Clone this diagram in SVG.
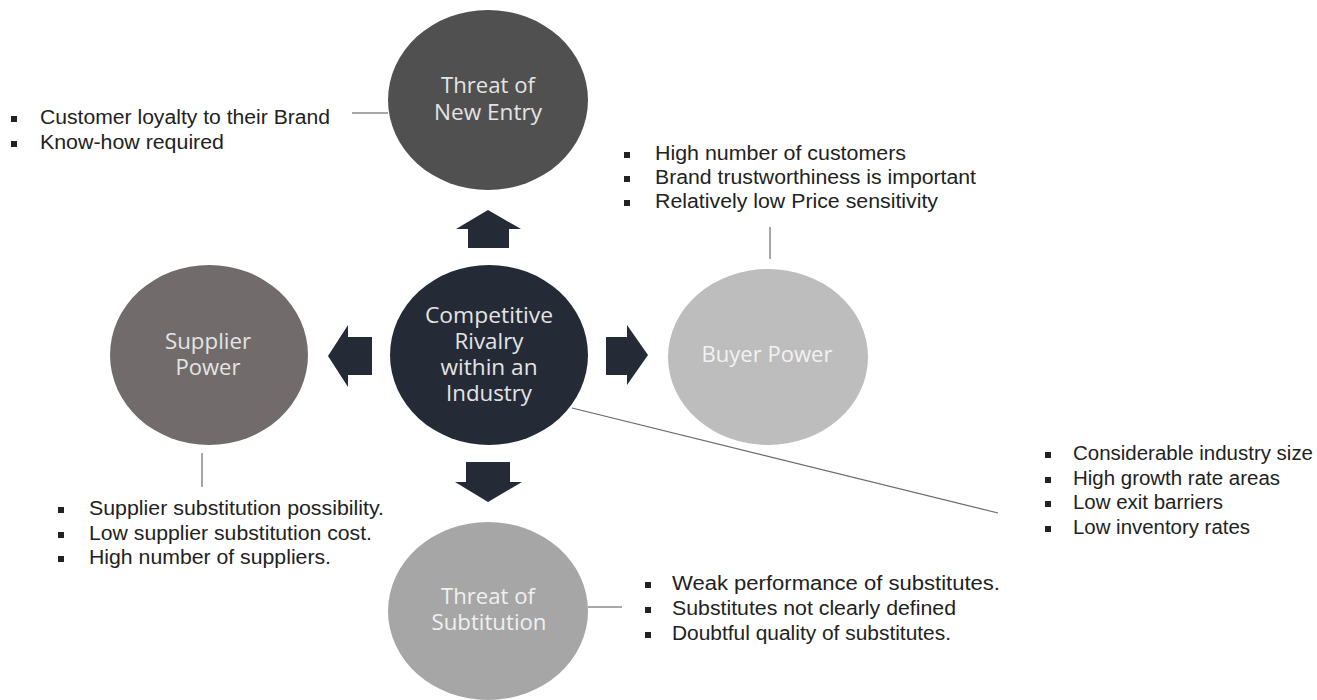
<svg xmlns="http://www.w3.org/2000/svg" width="1317" height="700" viewBox="0 0 1317 700">
<style>
.lbl{font-family:"Open Sans","Noto Sans",sans-serif;font-size:21px;text-anchor:middle;fill:#e4e4e4}
.lst{font-family:"Liberation Sans",Arial,sans-serif;font-size:20px;fill:#222}
.bul{fill:#222}
.arr{fill:#242b37}
.con{stroke:#8a8a8a;stroke-width:1.5;fill:none}
</style>
<rect width="1317" height="700" fill="#ffffff"/>
<g id="connectors">
<line class="con" x1="352" y1="113" x2="388" y2="113"/>
<line class="con" x1="770" y1="227" x2="770" y2="259"/>
<line class="con" x1="202" y1="453" x2="202" y2="487"/>
<line class="con" x1="588" y1="607" x2="622" y2="607"/>
<line x1="572" y1="408" x2="998" y2="513" stroke="#6a6a6a" stroke-width="1.2"/>
<polygon class="arr" points="488,210 521,229 509,229 509,248 468,248 468,229 456,229"/>
<polygon class="arr" points="466,462 510,462 510,482 522,482 488,502 455,482 466,482"/>
<polygon class="arr" points="328,356 348,325 348,337 372,337 372,375 348,375 348,387"/>
<polygon class="arr" points="606,337 627,337 627,325 648,355 627,385 627,375 606,375"/>
</g>
<g id="node-new-entry">
<ellipse cx="488" cy="100" rx="100" ry="90" fill="#505050"/>
<text class="lbl" x="488" y="93" textLength="94" lengthAdjust="spacingAndGlyphs">Threat of</text>
<text class="lbl" x="488" y="120" textLength="108" lengthAdjust="spacingAndGlyphs">New Entry</text>
</g>
<g id="node-rivalry">
<ellipse cx="489" cy="355" rx="99" ry="90" fill="#242b37"/>
<text class="lbl" x="489" y="323" textLength="128" lengthAdjust="spacingAndGlyphs">Competitive</text>
<text class="lbl" x="489" y="349" textLength="69" lengthAdjust="spacingAndGlyphs">Rivalry</text>
<text class="lbl" x="489" y="375" textLength="97" lengthAdjust="spacingAndGlyphs">within an</text>
<text class="lbl" x="489" y="401" textLength="86" lengthAdjust="spacingAndGlyphs">Industry</text>
</g>
<g id="node-supplier">
<ellipse cx="209" cy="355" rx="99" ry="90" fill="#716c6b"/>
<text class="lbl" x="208" y="349" textLength="86" lengthAdjust="spacingAndGlyphs">Supplier</text>
<text class="lbl" x="208" y="375" textLength="65" lengthAdjust="spacingAndGlyphs">Power</text>
</g>
<g id="node-buyer">
<ellipse cx="768" cy="357" rx="100" ry="88" fill="#bdbdbd"/>
<text class="lbl" x="767" y="362" style="fill:#f2f2f2" textLength="131" lengthAdjust="spacingAndGlyphs">Buyer Power</text>
</g>
<g id="node-substitution">
<ellipse cx="488" cy="611" rx="100" ry="89" fill="#a6a6a6"/>
<text class="lbl" x="488" y="604" style="fill:#f0f0f0" textLength="94" lengthAdjust="spacingAndGlyphs">Threat of</text>
<text class="lbl" x="489" y="630" style="fill:#f0f0f0" textLength="115" lengthAdjust="spacingAndGlyphs">Subtitution</text>
</g>
<g id="list-new-entry">
<rect class="bul" x="11" y="116" width="6" height="6"/>
<rect class="bul" x="11" y="141" width="6" height="6"/>
<text class="lst" x="40" y="124" textLength="290" lengthAdjust="spacingAndGlyphs">Customer loyalty to their Brand</text>
<text class="lst" x="40" y="149" textLength="184" lengthAdjust="spacingAndGlyphs">Know-how required</text>
</g>
<g id="list-buyer">
<rect class="bul" x="624" y="152" width="6" height="6"/>
<rect class="bul" x="624" y="176" width="6" height="6"/>
<rect class="bul" x="624" y="200" width="6" height="6"/>
<text class="lst" x="655" y="160" textLength="251" lengthAdjust="spacingAndGlyphs">High number of customers</text>
<text class="lst" x="655" y="184" textLength="321" lengthAdjust="spacingAndGlyphs">Brand trustworthiness is important</text>
<text class="lst" x="655" y="208" textLength="283" lengthAdjust="spacingAndGlyphs">Relatively low Price sensitivity</text>
</g>
<g id="list-rivalry">
<rect class="bul" x="1045" y="452" width="6" height="6"/>
<rect class="bul" x="1045" y="477" width="6" height="6"/>
<rect class="bul" x="1045" y="501" width="6" height="6"/>
<rect class="bul" x="1045" y="526" width="6" height="6"/>
<text class="lst" x="1073" y="460" textLength="240" lengthAdjust="spacingAndGlyphs">Considerable industry size</text>
<text class="lst" x="1073" y="485" textLength="207" lengthAdjust="spacingAndGlyphs">High growth rate areas</text>
<text class="lst" x="1073" y="509" textLength="150" lengthAdjust="spacingAndGlyphs">Low exit barriers</text>
<text class="lst" x="1073" y="534" textLength="177" lengthAdjust="spacingAndGlyphs">Low inventory rates</text>
</g>
<g id="list-supplier">
<rect class="bul" x="58" y="507" width="6" height="6"/>
<rect class="bul" x="58" y="532" width="6" height="6"/>
<rect class="bul" x="58" y="556" width="6" height="6"/>
<text class="lst" x="89" y="515" textLength="295" lengthAdjust="spacingAndGlyphs">Supplier substitution possibility.</text>
<text class="lst" x="89" y="540" textLength="283" lengthAdjust="spacingAndGlyphs">Low supplier substitution cost.</text>
<text class="lst" x="89" y="564" textLength="242" lengthAdjust="spacingAndGlyphs">High number of suppliers.</text>
</g>
<g id="list-substitution">
<rect class="bul" x="645" y="582" width="6" height="6"/>
<rect class="bul" x="645" y="607" width="6" height="6"/>
<rect class="bul" x="645" y="632" width="6" height="6"/>
<text class="lst" x="672" y="590" textLength="328" lengthAdjust="spacingAndGlyphs">Weak performance of substitutes.</text>
<text class="lst" x="672" y="615" textLength="284" lengthAdjust="spacingAndGlyphs">Substitutes not clearly defined</text>
<text class="lst" x="672" y="640" textLength="279" lengthAdjust="spacingAndGlyphs">Doubtful quality of substitutes.</text>
</g>
</svg>
